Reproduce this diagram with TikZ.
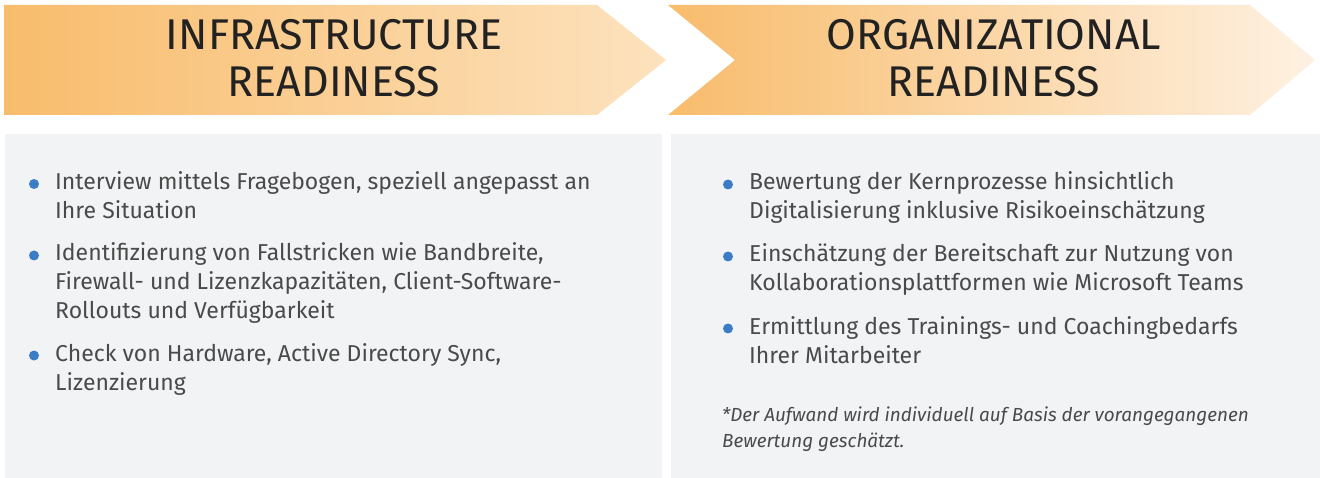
\documentclass[tikz,border=0pt]{standalone}
\usepackage{fontspec}
\setmainfont{Fira Sans}
\newfontfamily\headfont{Fira Sans}
\definecolor{orA}{HTML}{F8BC6C}
\definecolor{orB}{HTML}{FDE2BE}
\definecolor{orC}{HTML}{FEF1E2}
\definecolor{panel}{HTML}{F2F3F5}
\definecolor{headtxt}{HTML}{222222}
\definecolor{bodytxt}{HTML}{4A4A4A}
\definecolor{bul}{HTML}{3B7CC6}
\tikzset{
  head/.style={font=\headfont\fontsize{43}{47.4}\selectfont, text=headtxt, align=center, inner sep=0pt, anchor=base},
  item/.style={font=\fontsize{23}{29}\selectfont, text=bodytxt, align=left, inner sep=0pt, anchor=base west},
  note/.style={font=\itshape\fontsize{18.9}{26}\selectfont, text=bodytxt, align=left, inner sep=0pt, anchor=base west},
  bullet/.style={circle, fill=bul, inner sep=0pt, minimum size=10pt},
  panelbox/.style={fill=panel, draw=none}
}
\begin{document}
\begin{tikzpicture}[x=1pt,y=-1pt]
\useasboundingbox (0,0) rectangle (1320,478);
\fill[white] (0,0) rectangle (1320,478);
% arrows
\shade[left color=orA, right color=orB] (4,5) -- (597,5) -- (666,60) -- (597,115) -- (4,115) -- cycle;
\shade[left color=orA, right color=orC] (668,5) -- (1250,5) -- (1315,60) -- (1250,115) -- (668,115) -- (735,60) -- cycle;
% panels
\fill[panelbox] (5,134) rectangle (662,478);
\fill[panelbox] (671,134) rectangle (1320,478);
% headings
\node[head] (h1a) at (334,49.3) {INFRASTRUCTURE};
\node[head] (h1b) at (334,96.7) {READINESS};
\node[head] (h2a) at (994,49.3) {ORGANIZATIONAL};
\node[head] (h2b) at (994,96.7) {READINESS};
% left items
\node[bullet] (b1) at (34,184) {};
\node[item] (l1) at (55,218.3) {Interview mittels Fragebogen, speziell angepasst an\\Ihre Situation};
\node[bullet] (b2) at (34,255.5) {};
\node[item] (l2) at (55,319) {Identifizierung von Fallstricken wie Bandbreite,\\Firewall- und Lizenzkapazitäten, Client-Software-\\Rollouts und Verfügbarkeit};
\node[bullet] (b3) at (34,355.5) {};
\node[item] (l3) at (55,390) {Check von Hardware, Active Directory Sync,\\Lizenzierung};
% right items
\node[bullet] (c1) at (728,184.5) {};
\node[item] (r1) at (749,219) {Bewertung der Kernprozesse hinsichtlich\\Digitalisierung inklusive Risikoeinschätzung};
\node[bullet] (c2) at (728,256.5) {};
\node[item] (r2) at (749,291) {Einschätzung der Bereitschaft zur Nutzung von\\Kollaborationsplattformen wie Microsoft Teams};
\node[bullet] (c3) at (728,328.5) {};
\node[item] (r3) at (749,363) {Ermittlung des Trainings- und Coachingbedarfs\\Ihrer Mitarbeiter};
\node[note] (n1) at (722,447) {*Der Aufwand wird individuell auf Basis der vorangegangenen\\Bewertung geschätzt.};
\end{tikzpicture}
\end{document}
